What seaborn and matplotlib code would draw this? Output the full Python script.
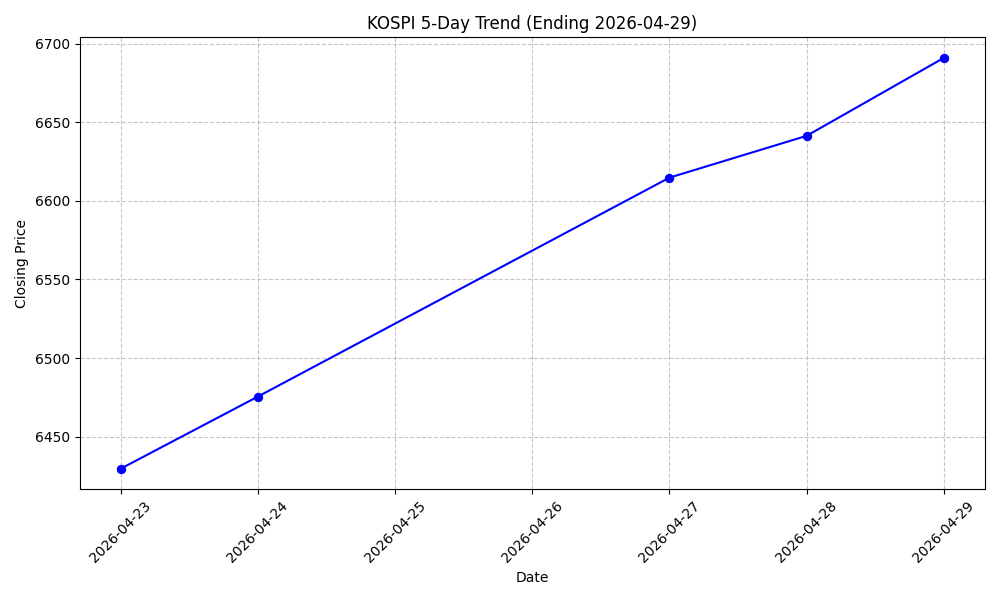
import matplotlib
matplotlib.use("Agg")
import matplotlib.pyplot as plt
import matplotlib.dates as mdates
import seaborn as sns
import pandas as pd

dates = ["2026-04-23", "2026-04-24", "2026-04-27", "2026-04-28", "2026-04-29"]
closes = [6429.6, 6475.5, 6614.8, 6641.4, 6691.0]

df = pd.DataFrame({"Date": pd.to_datetime(dates), "Close": closes})

fig, ax = plt.subplots(figsize=(10, 6), dpi=100)
sns.lineplot(data=df, x="Date", y="Close", ax=ax, color="blue", marker="o",
             markersize=6, markeredgecolor="blue", linewidth=1.5)
ax.set_title("KOSPI 5-Day Trend (Ending 2026-04-29)")
ax.set_xlabel("Date")
ax.set_ylabel("Closing Price")
ax.grid(True, linestyle="--", alpha=0.7)
ax.xaxis.set_major_locator(mdates.DayLocator())
ax.xaxis.set_major_formatter(mdates.DateFormatter("%Y-%m-%d"))
plt.setp(ax.get_xticklabels(), rotation=45)
plt.tight_layout()
fig.savefig("out.png")
